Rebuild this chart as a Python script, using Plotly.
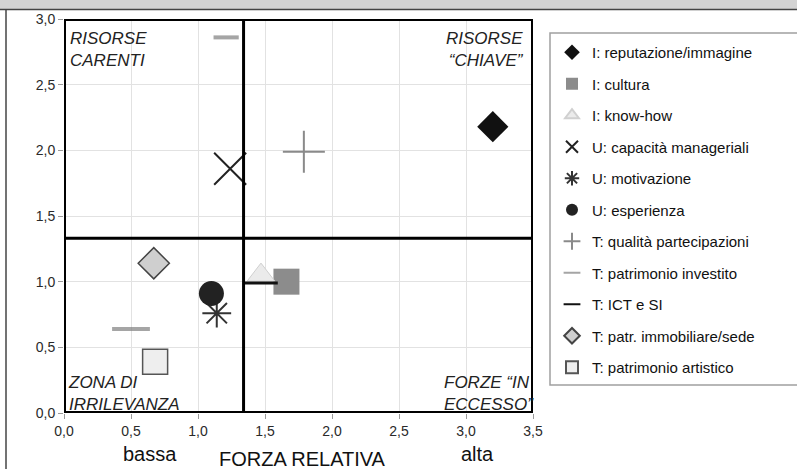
import plotly.graph_objects as go

# ---- data ----
series_names = [
    "I: reputazione/immagine",
    "I: cultura",
    "I: know-how",
    "U: capacità manageriali",
    "U: motivazione",
    "U: esperienza",
    "T: qualità partecipazioni",
    "T: patrimonio investito",
    "T: ICT e SI",
    "T: patr. immobiliare/sede",
    "T: patrimonio artistico",
]
series_x = [[3.20], [1.66], [1.47], [1.24], [1.14], [1.10], [1.79], [1.21, 0.50], [1.47], [0.67], [0.68]]
series_y = [[2.18], [1.00], [1.05], [1.86], [0.76], [0.91], [1.99], [2.86, 0.64], [0.99], [1.14], [0.39]]

x_threshold = 1.34
y_threshold = 1.33

x_tickvals = [0.0, 0.5, 1.0, 1.5, 2.0, 2.5, 3.0, 3.5]
x_ticktext = ["0,0", "0,5", "1,0", "1,5", "2,0", "2,5", "3,0", "3,5"]
y_tickvals = [0.0, 0.5, 1.0, 1.5, 2.0, 2.5, 3.0]
y_ticktext = ["0,0", "0,5", "1,0", "1,5", "2,0", "2,5", "3,0"]

quadrant_labels = ["RISORSE<br>CARENTI", "RISORSE<br>“CHIAVE”", "ZONA DI<br>IRRILEVANZA", "FORZE “IN<br>ECCESSO”"]
axis_title = "FORZA RELATIVA"
low_label, high_label = "bassa", "alta"

# ---- styles ----
styles = [
    dict(symbol="diamond", size=24, color="#111111", line=dict(width=0)),
    dict(symbol="square", size=26, color="#8c8c8c", line=dict(width=0)),
    dict(symbol="triangle-up", size=24, color="#ebebeb", line=dict(width=1, color="#d0d0d0")),
    dict(symbol="x-thin", size=32, color="#222222", line=dict(width=2, color="#222222")),
    dict(symbol="asterisk", size=24, color="#333333", line=dict(width=2, color="#333333")),
    dict(symbol="circle", size=25, color="#222222", line=dict(width=0)),
    dict(symbol="cross-thin", size=30, color="#8a8a8a", line=dict(width=2, color="#8a8a8a")),
    dict(symbol="line-ew", size=[18, 27], color="#7f7f7f", line=dict(width=4, color="#7f7f7f")),
    dict(symbol="line-ew", size=24, color="#111111", line=dict(width=3, color="#111111")),
    dict(symbol="diamond", size=24, color="#cfcfcf", line=dict(width=1.5, color="#444444")),
    dict(symbol="square", size=25, color="#eeeeee", line=dict(width=1.5, color="#555555")),
]

fig = go.Figure()
for i, name in enumerate(series_names):
    st = styles[i]
    fig.add_trace(go.Scatter(
        x=series_x[i], y=series_y[i], mode="markers", name=name,
        legendgroup=f"g{i}",
        marker=dict(symbol=st["symbol"], size=st["size"], color=st["color"], line=st["line"]),
        cliponaxis=False,
    ))

W, H = 797, 469
L, R, T, B = 64, 264, 19, 56
PW, PH = W - L - R, H - T - B

def px(x):
    return (x - L) / PW

def py(y):
    return (H - B - y) / PH

shapes = [
    # top gray band of the frame
    dict(type="rect", xref="paper", yref="paper", x0=px(-2), x1=px(800), y0=py(0), y1=py(9),
         fillcolor="#d3d3d3", line=dict(width=0), layer="above"),
    dict(type="line", xref="paper", yref="paper", x0=px(-2), x1=px(800), y0=py(9.5), y1=py(9.5),
         line=dict(color="#444444", width=1.5), layer="above"),
    # left frame line
    dict(type="line", xref="paper", yref="paper", x0=px(6), x1=px(6), y0=py(9.5), y1=py(470),
         line=dict(color="#444444", width=1.5), layer="above"),
    # legend box
    dict(type="rect", xref="paper", yref="paper", x0=px(550), x1=px(805), y0=py(385), y1=py(33),
         line=dict(color="#a0a0a0", width=1.5), fillcolor="rgba(0,0,0,0)"),
    # quadrant lines
    dict(type="line", xref="x", yref="y", x0=x_threshold, x1=x_threshold, y0=0, y1=3,
         line=dict(color="black", width=3), layer="above"),
    dict(type="line", xref="x", yref="y", x0=0, x1=3.5, y0=y_threshold, y1=y_threshold,
         line=dict(color="black", width=3), layer="above"),
    # plot border
    dict(type="rect", xref="x", yref="y", x0=0, x1=3.5, y0=0, y1=3,
         line=dict(color="black", width=4), layer="above"),
]

qfont = dict(family="Liberation Sans, Arial, sans-serif", size=17, color="#222222")
bigfont = dict(family="Liberation Sans, Arial, sans-serif", size=20, color="#111111")
annotations = [
    dict(text=f"<i>{quadrant_labels[0]}</i>", xref="paper", yref="paper", x=px(68), y=py(27),
         xanchor="left", yanchor="top", align="left", showarrow=False, font=qfont),
    dict(text=f"<i>{quadrant_labels[1]}</i>", xref="paper", yref="paper", x=px(526), y=py(27),
         xanchor="right", yanchor="top", align="right", showarrow=False, font=qfont),
    dict(text=f"<i>{quadrant_labels[2]}</i>", xref="paper", yref="paper", x=px(66), y=py(416),
         xanchor="left", yanchor="bottom", align="left", showarrow=False, font=qfont),
    dict(text=f"<i>{quadrant_labels[3]}</i>", xref="paper", yref="paper", x=px(536), y=py(416),
         xanchor="right", yanchor="bottom", align="left", showarrow=False, font=qfont),
    dict(text=low_label, xref="paper", yref="paper", x=px(150), y=py(454), xanchor="center",
         yanchor="middle", showarrow=False, font=bigfont),
    dict(text=high_label, xref="paper", yref="paper", x=px(477), y=py(454), xanchor="center",
         yanchor="middle", showarrow=False, font=bigfont),
    dict(text=axis_title, xref="paper", yref="paper", x=px(302), y=py(459), xanchor="center",
         yanchor="middle", showarrow=False, font=bigfont),
]

axis_common = dict(
    showgrid=True, gridcolor="#e2e2e2", gridwidth=1, zeroline=False,
    ticks="outside", ticklen=5, tickcolor="#9a9a9a", showline=False,
    tickfont=dict(family="Liberation Sans, Arial, sans-serif", size=14, color="#2a2a2a"),
)

fig.update_layout(
    width=W, height=H,
    margin=dict(l=L, r=R, t=T, b=B),
    paper_bgcolor="white", plot_bgcolor="white",
    xaxis=dict(range=[0, 3.5], tickvals=x_tickvals, ticktext=x_ticktext, **axis_common),
    yaxis=dict(range=[0, 3], tickvals=y_tickvals, ticktext=y_ticktext, **axis_common),
    shapes=shapes,
    annotations=annotations,
    showlegend=True,
    legend=dict(
        x=px(552), y=py(36), xanchor="left", yanchor="top",
        bgcolor="rgba(0,0,0,0)", borderwidth=0,
        font=dict(family="Liberation Sans, Arial, sans-serif", size=15, color="#111111"),
        itemsizing="constant", tracegroupgap=9, itemwidth=30,
    ),
)

fig.write_html(
    "out.html",
    config={"displayModeBar": False},
    post_script="document.body.style.margin='0';document.body.style.overflow='hidden';",
)
